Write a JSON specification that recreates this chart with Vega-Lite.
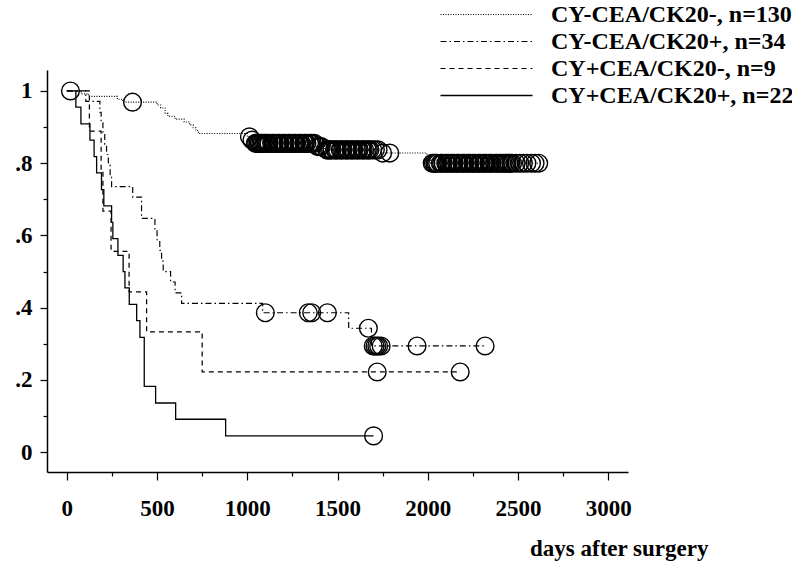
{
  "$schema": "https://vega.github.io/schema/vega-lite/v6.json",
  "width": 581,
  "height": 402,
  "autosize": "none",
  "padding": {"left": 47, "top": 70, "right": 164, "bottom": 90},
  "background": "white",
  "config": {"view": {"stroke": null}},
  "datasets": {
    "km": [
      {"g": "CY-CEA/CK20-, n=130", "t": 0, "s": 1},
      {"g": "CY-CEA/CK20-, n=130", "t": 80, "s": 0.992},
      {"g": "CY-CEA/CK20-, n=130", "t": 120, "s": 0.985},
      {"g": "CY-CEA/CK20-, n=130", "t": 280, "s": 0.977},
      {"g": "CY-CEA/CK20-, n=130", "t": 310, "s": 0.969},
      {"g": "CY-CEA/CK20-, n=130", "t": 500, "s": 0.961},
      {"g": "CY-CEA/CK20-, n=130", "t": 520, "s": 0.953},
      {"g": "CY-CEA/CK20-, n=130", "t": 545, "s": 0.938},
      {"g": "CY-CEA/CK20-, n=130", "t": 560, "s": 0.930},
      {"g": "CY-CEA/CK20-, n=130", "t": 600, "s": 0.922},
      {"g": "CY-CEA/CK20-, n=130", "t": 650, "s": 0.914},
      {"g": "CY-CEA/CK20-, n=130", "t": 680, "s": 0.906},
      {"g": "CY-CEA/CK20-, n=130", "t": 700, "s": 0.898},
      {"g": "CY-CEA/CK20-, n=130", "t": 715, "s": 0.890},
      {"g": "CY-CEA/CK20-, n=130", "t": 730, "s": 0.882},
      {"g": "CY-CEA/CK20-, n=130", "t": 1000, "s": 0.873},
      {"g": "CY-CEA/CK20-, n=130", "t": 1022, "s": 0.864},
      {"g": "CY-CEA/CK20-, n=130", "t": 1035, "s": 0.855},
      {"g": "CY-CEA/CK20-, n=130", "t": 1380, "s": 0.846},
      {"g": "CY-CEA/CK20-, n=130", "t": 1430, "s": 0.837},
      {"g": "CY-CEA/CK20-, n=130", "t": 1740, "s": 0.828},
      {"g": "CY-CEA/CK20-, n=130", "t": 1995, "s": 0.818},
      {"g": "CY-CEA/CK20-, n=130", "t": 2005, "s": 0.809},
      {"g": "CY-CEA/CK20-, n=130", "t": 2015, "s": 0.800},
      {"g": "CY-CEA/CK20-, n=130", "t": 2615, "s": 0.800},
      {"g": "CY-CEA/CK20+, n=34", "t": 0, "s": 1},
      {"g": "CY-CEA/CK20+, n=34", "t": 105, "s": 0.971},
      {"g": "CY-CEA/CK20+, n=34", "t": 183, "s": 0.941},
      {"g": "CY-CEA/CK20+, n=34", "t": 190, "s": 0.912},
      {"g": "CY-CEA/CK20+, n=34", "t": 200, "s": 0.882},
      {"g": "CY-CEA/CK20+, n=34", "t": 210, "s": 0.853},
      {"g": "CY-CEA/CK20+, n=34", "t": 220, "s": 0.824},
      {"g": "CY-CEA/CK20+, n=34", "t": 230, "s": 0.794},
      {"g": "CY-CEA/CK20+, n=34", "t": 240, "s": 0.765},
      {"g": "CY-CEA/CK20+, n=34", "t": 248, "s": 0.735},
      {"g": "CY-CEA/CK20+, n=34", "t": 365, "s": 0.706},
      {"g": "CY-CEA/CK20+, n=34", "t": 414, "s": 0.647},
      {"g": "CY-CEA/CK20+, n=34", "t": 488, "s": 0.618},
      {"g": "CY-CEA/CK20+, n=34", "t": 500, "s": 0.588},
      {"g": "CY-CEA/CK20+, n=34", "t": 515, "s": 0.559},
      {"g": "CY-CEA/CK20+, n=34", "t": 525, "s": 0.529},
      {"g": "CY-CEA/CK20+, n=34", "t": 534, "s": 0.5},
      {"g": "CY-CEA/CK20+, n=34", "t": 575, "s": 0.471},
      {"g": "CY-CEA/CK20+, n=34", "t": 600, "s": 0.441},
      {"g": "CY-CEA/CK20+, n=34", "t": 636, "s": 0.412},
      {"g": "CY-CEA/CK20+, n=34", "t": 1085, "s": 0.386},
      {"g": "CY-CEA/CK20+, n=34", "t": 1562, "s": 0.343},
      {"g": "CY-CEA/CK20+, n=34", "t": 1688, "s": 0.294},
      {"g": "CY-CEA/CK20+, n=34", "t": 2318, "s": 0.294},
      {"g": "CY+CEA/CK20-, n=9", "t": 0, "s": 1},
      {"g": "CY+CEA/CK20-, n=9", "t": 125, "s": 0.889},
      {"g": "CY+CEA/CK20-, n=9", "t": 190, "s": 0.778},
      {"g": "CY+CEA/CK20-, n=9", "t": 200, "s": 0.667},
      {"g": "CY+CEA/CK20-, n=9", "t": 245, "s": 0.556},
      {"g": "CY+CEA/CK20-, n=9", "t": 345, "s": 0.444},
      {"g": "CY+CEA/CK20-, n=9", "t": 442, "s": 0.333},
      {"g": "CY+CEA/CK20-, n=9", "t": 750, "s": 0.222},
      {"g": "CY+CEA/CK20-, n=9", "t": 2180, "s": 0.222},
      {"g": "CY+CEA/CK20+, n=22", "t": 0, "s": 1},
      {"g": "CY+CEA/CK20+, n=22", "t": 50, "s": 0.955},
      {"g": "CY+CEA/CK20+, n=22", "t": 78, "s": 0.909},
      {"g": "CY+CEA/CK20+, n=22", "t": 128, "s": 0.864},
      {"g": "CY+CEA/CK20+, n=22", "t": 151, "s": 0.818},
      {"g": "CY+CEA/CK20+, n=22", "t": 165, "s": 0.773},
      {"g": "CY+CEA/CK20+, n=22", "t": 192, "s": 0.727},
      {"g": "CY+CEA/CK20+, n=22", "t": 205, "s": 0.682},
      {"g": "CY+CEA/CK20+, n=22", "t": 248, "s": 0.636},
      {"g": "CY+CEA/CK20+, n=22", "t": 255, "s": 0.591},
      {"g": "CY+CEA/CK20+, n=22", "t": 283, "s": 0.545},
      {"g": "CY+CEA/CK20+, n=22", "t": 312, "s": 0.5},
      {"g": "CY+CEA/CK20+, n=22", "t": 322, "s": 0.455},
      {"g": "CY+CEA/CK20+, n=22", "t": 346, "s": 0.409},
      {"g": "CY+CEA/CK20+, n=22", "t": 387, "s": 0.364},
      {"g": "CY+CEA/CK20+, n=22", "t": 405, "s": 0.318},
      {"g": "CY+CEA/CK20+, n=22", "t": 429, "s": 0.182},
      {"g": "CY+CEA/CK20+, n=22", "t": 492, "s": 0.136},
      {"g": "CY+CEA/CK20+, n=22", "t": 603, "s": 0.091},
      {"g": "CY+CEA/CK20+, n=22", "t": 880, "s": 0.045},
      {"g": "CY+CEA/CK20+, n=22", "t": 1700, "s": 0.045}
    ],
    "cens": [
      {"g": "A", "t": 20, "s": 1},
      {"g": "A", "t": 364, "s": 0.969},
      {"g": "A", "t": 1012, "s": 0.873},
      {"g": "A", "t": 1026, "s": 0.864},
      {"g": "A", "t": 1045, "s": 0.855},
      {"g": "A", "t": 1052, "s": 0.855},
      {"g": "A", "t": 1060, "s": 0.855},
      {"g": "A", "t": 1067, "s": 0.855},
      {"g": "A", "t": 1075, "s": 0.855},
      {"g": "A", "t": 1082, "s": 0.855},
      {"g": "A", "t": 1090, "s": 0.855},
      {"g": "A", "t": 1097, "s": 0.855},
      {"g": "A", "t": 1105, "s": 0.855},
      {"g": "A", "t": 1112, "s": 0.855},
      {"g": "A", "t": 1120, "s": 0.855},
      {"g": "A", "t": 1135, "s": 0.855},
      {"g": "A", "t": 1142, "s": 0.855},
      {"g": "A", "t": 1150, "s": 0.855},
      {"g": "A", "t": 1165, "s": 0.855},
      {"g": "A", "t": 1172, "s": 0.855},
      {"g": "A", "t": 1180, "s": 0.855},
      {"g": "A", "t": 1195, "s": 0.855},
      {"g": "A", "t": 1202, "s": 0.855},
      {"g": "A", "t": 1210, "s": 0.855},
      {"g": "A", "t": 1225, "s": 0.855},
      {"g": "A", "t": 1232, "s": 0.855},
      {"g": "A", "t": 1240, "s": 0.855},
      {"g": "A", "t": 1255, "s": 0.855},
      {"g": "A", "t": 1262, "s": 0.855},
      {"g": "A", "t": 1270, "s": 0.855},
      {"g": "A", "t": 1285, "s": 0.855},
      {"g": "A", "t": 1292, "s": 0.855},
      {"g": "A", "t": 1300, "s": 0.855},
      {"g": "A", "t": 1315, "s": 0.855},
      {"g": "A", "t": 1322, "s": 0.855},
      {"g": "A", "t": 1330, "s": 0.855},
      {"g": "A", "t": 1345, "s": 0.855},
      {"g": "A", "t": 1352, "s": 0.855},
      {"g": "A", "t": 1360, "s": 0.855},
      {"g": "A", "t": 1372, "s": 0.855},
      {"g": "A", "t": 1390, "s": 0.846},
      {"g": "A", "t": 1400, "s": 0.846},
      {"g": "A", "t": 1410, "s": 0.846},
      {"g": "A", "t": 1440, "s": 0.837},
      {"g": "A", "t": 1447, "s": 0.837},
      {"g": "A", "t": 1455, "s": 0.837},
      {"g": "A", "t": 1462, "s": 0.837},
      {"g": "A", "t": 1470, "s": 0.837},
      {"g": "A", "t": 1485, "s": 0.837},
      {"g": "A", "t": 1492, "s": 0.837},
      {"g": "A", "t": 1500, "s": 0.837},
      {"g": "A", "t": 1515, "s": 0.837},
      {"g": "A", "t": 1522, "s": 0.837},
      {"g": "A", "t": 1530, "s": 0.837},
      {"g": "A", "t": 1545, "s": 0.837},
      {"g": "A", "t": 1552, "s": 0.837},
      {"g": "A", "t": 1560, "s": 0.837},
      {"g": "A", "t": 1575, "s": 0.837},
      {"g": "A", "t": 1582, "s": 0.837},
      {"g": "A", "t": 1590, "s": 0.837},
      {"g": "A", "t": 1605, "s": 0.837},
      {"g": "A", "t": 1612, "s": 0.837},
      {"g": "A", "t": 1620, "s": 0.837},
      {"g": "A", "t": 1635, "s": 0.837},
      {"g": "A", "t": 1642, "s": 0.837},
      {"g": "A", "t": 1650, "s": 0.837},
      {"g": "A", "t": 1665, "s": 0.837},
      {"g": "A", "t": 1672, "s": 0.837},
      {"g": "A", "t": 1680, "s": 0.837},
      {"g": "A", "t": 1695, "s": 0.837},
      {"g": "A", "t": 1710, "s": 0.837},
      {"g": "A", "t": 1725, "s": 0.837},
      {"g": "A", "t": 1750, "s": 0.828},
      {"g": "A", "t": 1790, "s": 0.828},
      {"g": "A", "t": 2025, "s": 0.8},
      {"g": "A", "t": 2032, "s": 0.8},
      {"g": "A", "t": 2040, "s": 0.8},
      {"g": "A", "t": 2047, "s": 0.8},
      {"g": "A", "t": 2055, "s": 0.8},
      {"g": "A", "t": 2070, "s": 0.8},
      {"g": "A", "t": 2077, "s": 0.8},
      {"g": "A", "t": 2085, "s": 0.8},
      {"g": "A", "t": 2100, "s": 0.8},
      {"g": "A", "t": 2107, "s": 0.8},
      {"g": "A", "t": 2115, "s": 0.8},
      {"g": "A", "t": 2130, "s": 0.8},
      {"g": "A", "t": 2137, "s": 0.8},
      {"g": "A", "t": 2145, "s": 0.8},
      {"g": "A", "t": 2160, "s": 0.8},
      {"g": "A", "t": 2167, "s": 0.8},
      {"g": "A", "t": 2175, "s": 0.8},
      {"g": "A", "t": 2190, "s": 0.8},
      {"g": "A", "t": 2197, "s": 0.8},
      {"g": "A", "t": 2205, "s": 0.8},
      {"g": "A", "t": 2220, "s": 0.8},
      {"g": "A", "t": 2227, "s": 0.8},
      {"g": "A", "t": 2235, "s": 0.8},
      {"g": "A", "t": 2250, "s": 0.8},
      {"g": "A", "t": 2257, "s": 0.8},
      {"g": "A", "t": 2265, "s": 0.8},
      {"g": "A", "t": 2280, "s": 0.8},
      {"g": "A", "t": 2287, "s": 0.8},
      {"g": "A", "t": 2295, "s": 0.8},
      {"g": "A", "t": 2310, "s": 0.8},
      {"g": "A", "t": 2317, "s": 0.8},
      {"g": "A", "t": 2325, "s": 0.8},
      {"g": "A", "t": 2340, "s": 0.8},
      {"g": "A", "t": 2347, "s": 0.8},
      {"g": "A", "t": 2355, "s": 0.8},
      {"g": "A", "t": 2370, "s": 0.8},
      {"g": "A", "t": 2380, "s": 0.8},
      {"g": "A", "t": 2390, "s": 0.8},
      {"g": "A", "t": 2400, "s": 0.8},
      {"g": "A", "t": 2410, "s": 0.8},
      {"g": "A", "t": 2420, "s": 0.8},
      {"g": "A", "t": 2430, "s": 0.8},
      {"g": "A", "t": 2440, "s": 0.8},
      {"g": "A", "t": 2450, "s": 0.8},
      {"g": "A", "t": 2460, "s": 0.8},
      {"g": "A", "t": 2470, "s": 0.8},
      {"g": "A", "t": 2490, "s": 0.8},
      {"g": "A", "t": 2510, "s": 0.8},
      {"g": "A", "t": 2530, "s": 0.8},
      {"g": "A", "t": 2550, "s": 0.8},
      {"g": "A", "t": 2575, "s": 0.8},
      {"g": "A", "t": 2595, "s": 0.8},
      {"g": "A", "t": 2615, "s": 0.8},
      {"g": "B", "t": 1100, "s": 0.386},
      {"g": "B", "t": 1338, "s": 0.386},
      {"g": "B", "t": 1357, "s": 0.386},
      {"g": "B", "t": 1444, "s": 0.386},
      {"g": "B", "t": 1671, "s": 0.343},
      {"g": "B", "t": 1698, "s": 0.294},
      {"g": "B", "t": 1708, "s": 0.294},
      {"g": "B", "t": 1718, "s": 0.294},
      {"g": "B", "t": 1728, "s": 0.294},
      {"g": "B", "t": 1742, "s": 0.294},
      {"g": "B", "t": 1941, "s": 0.294},
      {"g": "B", "t": 2318, "s": 0.294},
      {"g": "C", "t": 1720, "s": 0.222},
      {"g": "C", "t": 2180, "s": 0.222},
      {"g": "D", "t": 1700, "s": 0.045}
    ]
  },
  "encoding": {
    "x": {
      "field": "t",
      "type": "quantitative",
      "scale": {"domain": [-110, 3110], "nice": false, "zero": false},
      "axis": {
        "title": "days after surgery",
        "grid": false,
        "values": [0, 250, 500, 750, 1000, 1250, 1500, 1750, 2000, 2250, 2500, 2750, 3000],
        "labelExpr": "datum.value % 500 === 0 ? datum.label : ''",
        "format": "d",
        "tickSize": {"condition": {"test": "datum.value % 500 === 0", "value": 8}, "value": 4},
        "tickColor": "black",
        "tickWidth": 1.2,
        "domainColor": "black",
        "domainWidth": 1.5,
        "labelFont": "Liberation Serif",
        "labelFontWeight": "bold",
        "labelFontSize": 23,
        "labelColor": "black",
        "labelPadding": 17,
        "labelFlush": false,
        "labelOverlap": false,
        "titleFont": "Liberation Serif",
        "titleFontWeight": "bold",
        "titleFontSize": 23,
        "titleColor": "black",
        "titleAnchor": null,
        "titleAlign": "right",
        "titleBaseline": "middle",
        "titleX": 661,
        "titleY": 76
      }
    },
    "y": {
      "field": "s",
      "type": "quantitative",
      "scale": {"domain": [-0.055, 1.058], "nice": false, "zero": false},
      "axis": {
        "title": null,
        "grid": false,
        "values": [0, 0.1, 0.2, 0.3, 0.4, 0.5, 0.6, 0.7, 0.8, 0.9, 1],
        "labelExpr": "round(datum.value*10) % 2 !== 0 ? '' : (datum.value === 0 ? '0' : (datum.value === 1 ? '1' : replace(format(datum.value, '.1f'), '0.', '.')))",
        "tickSize": {"condition": {"test": "round(datum.value*10) % 2 === 0", "value": 7}, "value": 4},
        "tickColor": "black",
        "tickWidth": 1.2,
        "domainColor": "black",
        "domainWidth": 1.5,
        "labelFont": "Liberation Serif",
        "labelFontWeight": "bold",
        "labelFontSize": 23,
        "labelColor": "black",
        "labelPadding": 8,
        "labelFlush": false,
        "labelOverlap": false
      }
    }
  },
  "layer": [
    {
      "data": {"name": "km"},
      "mark": {"type": "line", "interpolate": "step-after", "color": "black"},
      "encoding": {
        "detail": {"field": "g"},
        "strokeDash": {
          "field": "g",
          "type": "nominal",
          "scale": {
            "domain": ["CY-CEA/CK20-, n=130", "CY-CEA/CK20+, n=34", "CY+CEA/CK20-, n=9", "CY+CEA/CK20+, n=22"],
            "range": [[1, 1.5], [6, 3, 1.5, 3], [5, 4], [1, 0]]
          },
          "legend": {
            "title": null,
            "orient": "none",
            "legendX": 427,
            "legendY": -68,
            "symbolType": "M-4,0H4",
            "symbolSize": 529,
            "symbolStrokeColor": "black",
            "symbolFillColor": "transparent",
            "symbolStrokeWidth": 1.3,
            "labelOffset": 52,
            "rowPadding": 2,
            "labelFont": "Liberation Serif",
            "labelFontWeight": "bold",
            "labelFontSize": 24,
            "labelColor": "black",
            "labelLimit": 400
          }
        },
        "strokeWidth": {
          "field": "g",
          "type": "nominal",
          "scale": {
            "domain": ["CY-CEA/CK20-, n=130", "CY-CEA/CK20+, n=34", "CY+CEA/CK20-, n=9", "CY+CEA/CK20+, n=22"],
            "range": [1.1, 1.3, 1.6, 1.8]
          },
          "legend": null
        }
      }
    },
    {
      "data": {"name": "cens"},
      "mark": {"type": "point", "shape": "circle", "filled": false, "stroke": "black", "strokeWidth": 1.4, "size": 314, "opacity": 1},
      "encoding": {
        "detail": {"field": "g"}
      }
    }
  ]
}
